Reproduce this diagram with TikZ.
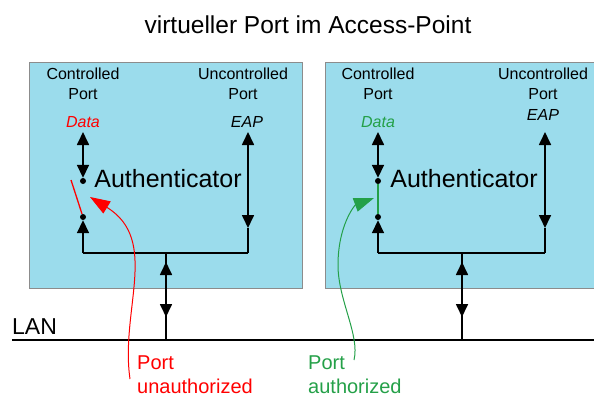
\documentclass[tikz,border=0pt]{standalone}
\usepackage{fontspec}
\setmainfont{Liberation Sans}
\usetikzlibrary{arrows.meta}

\definecolor{boxblue}{RGB}{155,220,236}
\definecolor{boxedge}{RGB}{140,140,140}
\definecolor{authgreen}{RGB}{36,160,72}

\tikzset{
    apbox/.style={fill=boxblue, draw=boxedge, line width=0.8pt},
    conn/.style={line width=1.7pt},
    tip/.style={conn, -{Triangle[length=13pt,width=12pt]}},
    biarrow/.style={conn, {Triangle[length=13pt,width=12pt]}-{Triangle[length=13pt,width=12pt]}},
    dot/.style={circle, fill=black, inner sep=0pt, minimum size=6pt},
    note/.style={line width=1pt, -{Triangle[length=20pt,width=14pt]}},
    title/.style={inner sep=0pt, font=\fontsize{24.5}{29}\selectfont},
    portlbl/.style={inner sep=0pt, align=center, font=\fontsize{16}{19.5}\selectfont},
    datalbl/.style={inner sep=0pt, font=\fontsize{16}{19.5}\selectfont\itshape},
    authlbl/.style={inner sep=0pt, font=\fontsize{25}{30}\selectfont},
    notelbl/.style={inner sep=0pt, anchor=west, align=left, font=\fontsize{20}{24}\selectfont},
}

\begin{document}
\begin{tikzpicture}[x=1pt, y=-1pt]
    \pgfdeclarelayer{background}
    \pgfsetlayers{background,main}
    \useasboundingbox (0,0) rectangle (594,396);

    \node[title] (head) at (308,25) {virtueller Port im Access-Point};

    % first access point: port unauthorized
    \node[portlbl] (ctrl1) at (83,84) {Controlled\\Port};
    \node[portlbl] (unctrl1) at (243,84) {Uncontrolled\\Port};
    \node[datalbl, red] (data1) at (83,122) {Data};
    \node[datalbl] (eap1) at (247,122) {EAP};
    \node[authlbl] (auth1) at (168,179) {Authenticator};
    \node[dot] (sw1a) at (83,181) {};
    \node[dot] (sw1b) at (83,217) {};
    \coordinate (d1) at (83,132);
    \coordinate (sw1open) at (71,180);
    \coordinate (e1a) at (248,132);
    \coordinate (e1b) at (248,228);
    \coordinate (j1l) at (83,253);
    \coordinate (j1m) at (166,253);
    \coordinate (j1r) at (248,253);
    \coordinate (m1a) at (166,262);
    \coordinate (m1b) at (166,317);

    % second access point: port authorized
    \node[portlbl] (ctrl2) at (378,84) {Controlled\\Port};
    \node[portlbl] (unctrl2) at (543,84) {Uncontrolled\\Port};
    \node[datalbl, authgreen] (data2) at (378,122) {Data};
    \node[datalbl] (eap2) at (543,115) {EAP};
    \node[authlbl] (auth2) at (464,179) {Authenticator};
    \node[dot] (sw2a) at (378,181) {};
    \node[dot] (sw2b) at (378,217) {};
    \coordinate (d2) at (378,132);
    \coordinate (e2a) at (545,132);
    \coordinate (e2b) at (545,228);
    \coordinate (j2l) at (378,253);
    \coordinate (j2m) at (462,253);
    \coordinate (j2r) at (545,253);
    \coordinate (m2a) at (462,262);
    \coordinate (m2b) at (462,317);

    % LAN
    \node[inner sep=0pt, anchor=west, font=\fontsize{23}{27}\selectfont] (lan) at (12,327) {LAN};
    \coordinate (lanW) at (12,340);
    \coordinate (lanE) at (594,340);
    \coordinate (lan1) at (166,340);
    \coordinate (lan2) at (462,340);
    \draw[line width=1.8pt] (lanW) -- (lanE);

    \begin{pgfonlayer}{background}
        \filldraw[apbox] (29,62) rectangle (302,288);
        \filldraw[apbox] (325,62) rectangle (600,288);
    \end{pgfonlayer}

    % wiring inside the first box
    \draw[biarrow] (d1) -- (sw1a);
    \draw[red, line width=1.3pt] (sw1open) -- (sw1b);
    \draw[conn] (j1l) -- (j1r);
    \draw[tip] (j1l) -- (sw1b);
    \draw[biarrow] (e1a) -- (e1b);
    \draw[conn] (e1b) -- (j1r);
    \draw[conn] (j1m) -- (lan1);
    \draw[biarrow] (m1a) -- (m1b);

    % wiring inside the second box
    \draw[biarrow] (d2) -- (sw2a);
    \draw[authgreen, line width=1.5pt] (sw2a) -- (sw2b);
    \draw[conn] (j2l) -- (j2r);
    \draw[tip] (j2l) -- (sw2b);
    \draw[biarrow] (e2a) -- (e2b);
    \draw[conn] (e2b) -- (j2r);
    \draw[conn] (j2m) -- (lan2);
    \draw[biarrow] (m2a) -- (m2b);

    % switch state notes
    \node[notelbl, red] (unauth) at (137,375) {Port\\unauthorized};
    \node[notelbl, authgreen] (auth) at (308,375) {Port\\authorized};
    \coordinate (r0) at (130,379);
    \coordinate (r1) at (90,197);
    \coordinate (g0) at (354,360);
    \coordinate (g1) at (338,265);
    \coordinate (g2) at (374,198);
    \draw[note, red] (r0) .. controls (120,310) and (160,240) .. (r1);
    \draw[note, authgreen] (g0) .. controls (360,335) and (338,300) .. (g1)
        .. controls (338,225) and (355,205) .. (g2);
\end{tikzpicture}
\end{document}
